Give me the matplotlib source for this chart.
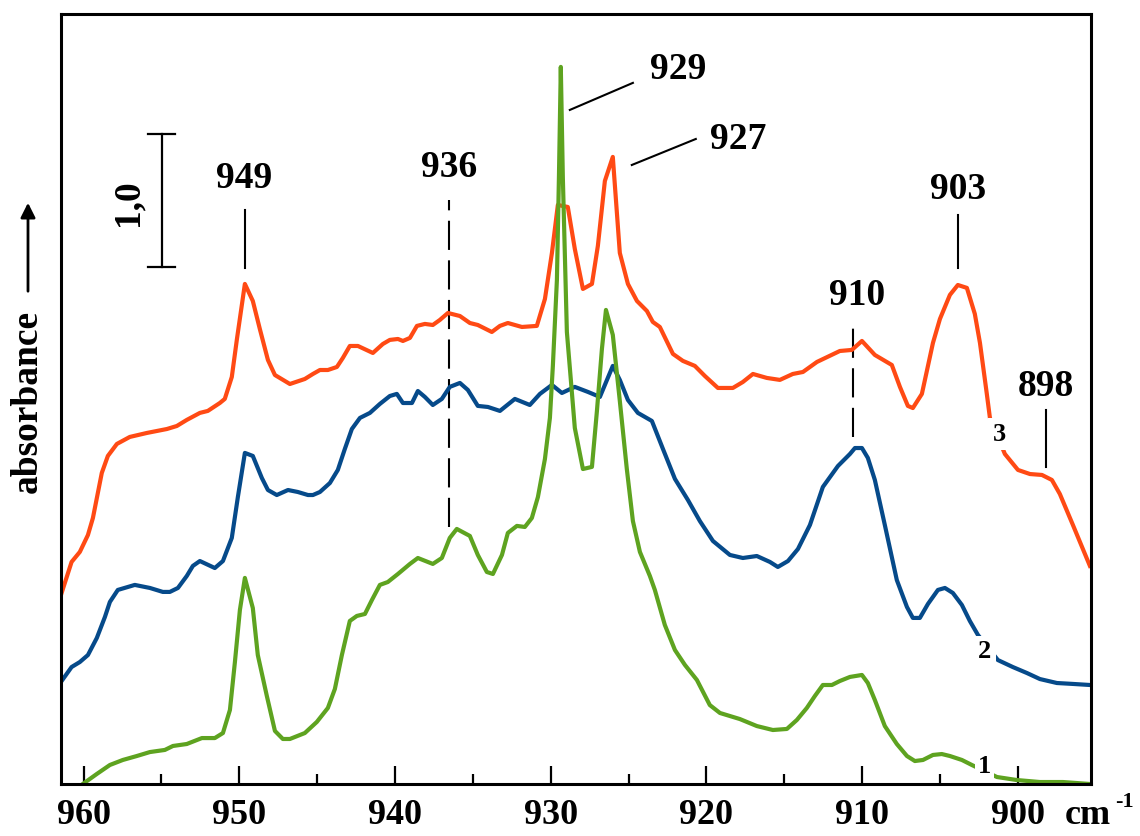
import numpy as np
import matplotlib
matplotlib.use("Agg")
import matplotlib.pyplot as plt
from matplotlib.ticker import MultipleLocator

plt.rcParams['font.family'] = ['Liberation Serif', 'DejaVu Serif']
plt.rcParams['font.weight'] = 'bold'

# spectrum 3 (orange)
wn3 = [961.41, 960.77, 960.24, 959.72, 959.40, 958.83, 958.44, 957.86, 957.03, 955.94,
       954.65, 954.01, 953.37, 952.53, 952.02, 951.25, 950.93, 950.48, 950.15, 949.64,
       949.13, 948.68, 948.16, 947.71, 946.75, 945.79, 945.27, 944.82, 944.31, 943.73,
       943.35, 942.90, 942.38, 941.42, 940.78, 940.33, 939.81, 939.49, 939.04, 938.59,
       938.08, 937.57, 937.12, 936.60, 935.83, 935.19, 934.68, 933.78, 933.26, 932.75,
       931.85, 930.89, 930.37, 929.92, 929.54, 928.90, 928.45, 927.93, 927.35, 926.97,
       926.52, 926.01, 925.56, 925.04, 924.46, 923.82, 923.44, 922.99, 922.15, 921.51,
       920.74, 920.10, 919.26, 918.30, 917.66, 917.01, 916.12, 915.28, 914.45, 913.80,
       912.90, 911.43, 910.66, 910.01, 909.18, 908.09, 907.57, 907.06, 906.74, 906.16,
       905.45, 905.00, 904.36, 903.85, 903.27, 902.76, 902.43, 901.99, 901.79, 900.83,
       899.99, 899.22, 898.45, 897.81, 897.30, 896.46, 895.37]
ab3 = [1.447, 1.682, 1.758, 1.886, 2.015, 2.356, 2.485, 2.576, 2.629, 2.659,
       2.689, 2.712, 2.758, 2.811, 2.826, 2.886, 2.917, 3.083, 3.371, 3.788,
       3.659, 3.447, 3.212, 3.098, 3.030, 3.068, 3.106, 3.136, 3.136, 3.159,
       3.227, 3.318, 3.318, 3.265, 3.333, 3.364, 3.371, 3.356, 3.379, 3.470,
       3.485, 3.477, 3.515, 3.568, 3.545, 3.492, 3.477, 3.424, 3.470, 3.492,
       3.462, 3.470, 3.674, 4.023, 4.386, 4.371, 4.053, 3.750, 3.788, 4.076,
       4.568, 4.750, 4.023, 3.788, 3.659, 3.583, 3.500, 3.462, 3.258, 3.205,
       3.167, 3.091, 3.000, 3.000, 3.045, 3.106, 3.076, 3.061, 3.106, 3.121,
       3.197, 3.280, 3.288, 3.356, 3.250, 3.174, 3.008, 2.864, 2.848, 2.955,
       3.341, 3.523, 3.705, 3.780, 3.758, 3.561, 3.341, 2.955, 2.773, 2.500,
       2.379, 2.348, 2.341, 2.303, 2.197, 1.962, 1.652]

# spectrum 2 (blue)
wn2 = [961.41, 960.77, 960.24, 959.72, 959.15, 958.63, 958.31, 957.80, 956.71, 955.74,
       954.91, 954.46, 953.94, 953.37, 952.98, 952.53, 951.57, 951.05, 950.48, 950.09,
       949.64, 949.13, 948.55, 948.16, 947.59, 946.87, 946.24, 945.59, 945.27, 944.82,
       944.18, 943.67, 943.22, 942.77, 942.25, 941.61, 940.97, 940.33, 939.88, 939.49,
       938.91, 938.53, 938.08, 937.57, 936.99, 936.48, 935.83, 935.32, 934.68, 934.03,
       933.26, 932.30, 931.34, 930.69, 929.92, 929.28, 928.45, 927.61, 926.84, 926.01,
       925.56, 925.04, 924.40, 923.50, 922.79, 922.02, 921.19, 920.42, 919.58, 918.49,
       917.66, 916.76, 915.92, 915.41, 914.76, 914.12, 913.35, 912.52, 911.55, 910.78,
       910.46, 910.01, 909.63, 909.18, 908.54, 907.77, 907.12, 906.74, 906.29, 905.77,
       905.13, 904.68, 904.17, 903.59, 903.08, 902.56, 901.28, 900.32, 899.42, 898.58,
       897.49, 896.46, 895.37]
ab2 = [0.780, 0.886, 0.924, 0.977, 1.106, 1.265, 1.379, 1.470, 1.508, 1.485,
       1.455, 1.455, 1.485, 1.576, 1.652, 1.689, 1.636, 1.689, 1.864, 2.174,
       2.508, 2.485, 2.318, 2.227, 2.189, 2.227, 2.212, 2.189, 2.189, 2.212,
       2.280, 2.379, 2.538, 2.689, 2.773, 2.811, 2.879, 2.939, 2.955, 2.886,
       2.886, 2.977, 2.932, 2.871, 2.917, 3.008, 3.038, 2.985, 2.864, 2.856,
       2.826, 2.917, 2.871, 2.955, 3.023, 2.962, 3.008, 2.970, 2.932, 3.167,
       3.061, 2.909, 2.811, 2.750, 2.538, 2.311, 2.152, 1.992, 1.841, 1.735,
       1.712, 1.727, 1.682, 1.644, 1.689, 1.780, 1.962, 2.250, 2.409, 2.500,
       2.545, 2.545, 2.470, 2.303, 1.962, 1.545, 1.341, 1.258, 1.258, 1.364,
       1.470, 1.485, 1.447, 1.356, 1.235, 1.129, 0.939, 0.886, 0.841, 0.795,
       0.765, 0.758, 0.750]

# spectrum 1 (green)
wn1 = [960.37, 960.05, 959.15, 958.31, 957.48, 956.58, 955.74, 954.78, 954.26, 953.37,
       952.40, 951.57, 951.05, 950.60, 950.28, 949.96, 949.64, 949.13, 948.81, 948.23,
       947.71, 947.20, 946.75, 945.79, 945.02, 944.31, 943.86, 943.41, 942.90, 942.45,
       941.93, 941.48, 940.97, 940.46, 939.81, 939.04, 938.53, 937.57, 936.99, 936.48,
       936.03, 935.19, 934.68, 934.10, 933.71, 933.13, 932.75, 932.17, 931.66, 931.21,
       930.82, 930.37, 930.05, 929.86, 929.60, 929.47, 929.35, 929.22, 928.96, 928.45,
       927.93, 927.35, 927.03, 926.71, 926.45, 926.01, 925.56, 925.11, 924.72, 924.27,
       923.63, 923.31, 922.67, 922.02, 921.38, 920.61, 919.78, 919.13, 917.85, 916.76,
       915.73, 914.83, 914.19, 913.55, 913.03, 912.52, 911.94, 911.43, 910.78, 910.01,
       909.63, 909.18, 908.54, 907.77, 907.12, 906.61, 906.09, 905.45, 904.88, 904.36,
       903.59, 902.95, 901.34, 900.06, 898.58, 897.10, 895.37]
ab1 = [-0.030, 0.000, 0.076, 0.144, 0.182, 0.212, 0.242, 0.258, 0.288, 0.303,
       0.348, 0.348, 0.386, 0.561, 0.924, 1.318, 1.561, 1.333, 0.977, 0.667,
       0.402, 0.341, 0.341, 0.386, 0.470, 0.576, 0.720, 0.977, 1.235, 1.273,
       1.288, 1.394, 1.508, 1.530, 1.591, 1.667, 1.712, 1.667, 1.712, 1.864,
       1.932, 1.879, 1.735, 1.606, 1.591, 1.735, 1.902, 1.955, 1.947, 2.015,
       2.174, 2.462, 2.773, 3.167, 3.818, 4.598, 5.432, 4.598, 3.424, 2.697,
       2.386, 2.402, 2.826, 3.295, 3.591, 3.402, 2.902, 2.386, 1.992, 1.758,
       1.576, 1.470, 1.205, 1.015, 0.902, 0.788, 0.598, 0.538, 0.492, 0.439,
       0.409, 0.417, 0.485, 0.576, 0.667, 0.750, 0.750, 0.780, 0.811, 0.826,
       0.765, 0.636, 0.439, 0.303, 0.212, 0.174, 0.182, 0.220, 0.227, 0.212,
       0.182, 0.144, 0.053, 0.030, 0.015, 0.015, 0.000]

fig = plt.figure(figsize=(11.4, 8.36), dpi=100)
ax = fig.add_axes([0.0535, 0.0622, 0.9035, 0.9211])

lw = 3.0
ax.plot(wn3, ab3, color='#FF4A14', lw=lw, solid_joinstyle='round', zorder=3)
ax.plot(wn2, ab2, color='#064A8A', lw=lw, solid_joinstyle='round', zorder=3)
ax.plot(wn1, ab1, color='#5EA320', lw=lw, solid_joinstyle='round', zorder=3)

ax.set_xlim(961.45, 895.3)
ax.set_ylim(0, 5.833)

ax.xaxis.set_major_locator(MultipleLocator(10))
ax.xaxis.set_minor_locator(MultipleLocator(5))
ax.tick_params(axis='x', which='major', direction='in', length=13, width=1.6,
               labelsize=26, pad=11)
ax.tick_params(axis='x', which='minor', direction='in', length=7, width=1.6)
ax.set_yticks([])
for s in ax.spines.values():
    s.set_linewidth(2.2)
    s.set_zorder(6)
for lab in ax.get_xticklabels():
    lab.set_fontweight('bold')

# cm-1 unit
fig.text(1088/1140, 1 - 815/836, 'cm', fontsize=26, ha='center', va='center')
fig.text(1124/1140, 1 - 802/836, '-1', fontsize=16, ha='center', va='center')

# absorbance axis label with arrow
fig.text(27/1140, 1 - 401/836, 'absorbance', rotation=90, fontsize=27,
         ha='center', va='center')
ax.annotate('', xy=(28/1140, 1 - 200/836), xytext=(28/1140, 1 - 294/836),
            xycoords='figure fraction', textcoords='figure fraction',
            arrowprops=dict(arrowstyle='-|>', lw=2, color='black', mutation_scale=22))

# scale bar 1,0
ax.plot([954.97, 954.97], [3.917, 4.924], color='black', lw=1.6)
ax.plot([955.87, 954.14], [4.924, 4.924], color='black', lw=1.6)
ax.plot([955.87, 954.14], [3.917, 3.917], color='black', lw=1.6)
ax.text(957.16, 4.40, '1,0', rotation=90, fontsize=27, ha='center', va='center')

# peak labels
fs = 27
dash = (0, (14, 5))
ax.text(949.70, 4.59, '949', fontsize=fs, ha='center', va='center')
ax.plot([949.64, 949.64], [3.91, 4.35], color='black', lw=1.5)

ax.text(936.54, 4.67, '936', fontsize=fs, ha='center', va='center')
ax.plot([936.50, 936.50], [1.95, 4.42], color='black', lw=1.5, ls=dash)

ax.text(921.83, 5.41, '929', fontsize=fs, ha='center', va='center')
ax.plot([928.77, 924.72], [5.106, 5.311], color='black', lw=1.5)

ax.text(917.98, 4.88, '927', fontsize=fs, ha='center', va='center')
ax.plot([924.79, 920.68], [4.689, 4.886], color='black', lw=1.5)

ax.text(910.34, 3.70, '910', fontsize=fs, ha='center', va='center')
ax.plot([910.59, 910.59], [2.63, 3.48], color='black', lw=1.5, ls=dash)

ax.text(903.85, 4.50, '903', fontsize=fs, ha='center', va='center')
ax.plot([903.85, 903.85], [3.91, 4.31], color='black', lw=1.5)

ax.text(898.20, 3.01, '898', fontsize=fs, ha='center', va='center')
ax.plot([898.20, 898.20], [2.40, 2.83], color='black', lw=1.5)

# curve numbers
box = dict(facecolor='white', edgecolor='none', pad=3)
ax.text(901.20, 2.65, '3', fontsize=19, ha='center', va='center', bbox=box, zorder=5)
ax.text(902.11, 1.00, '2', fontsize=19, ha='center', va='center', bbox=box, zorder=5)
ax.text(902.11, 0.13, '1', fontsize=19, ha='center', va='center',
        bbox=dict(facecolor='white', edgecolor='none', pad=2), zorder=5)

fig.savefig('out.png', dpi=100)
